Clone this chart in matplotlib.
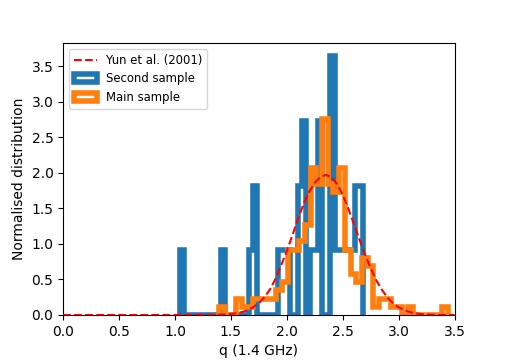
import numpy as np
import matplotlib.pyplot as plt

# Yun et al. (2001) curve
yun_q = [0.0, 1.0, 1.30, 1.35, 1.40, 1.45, 1.50, 1.55, 1.60, 1.65, 1.70, 1.75,
         1.80, 1.85, 1.90, 1.95, 2.00, 2.05, 2.10, 2.15, 2.20, 2.25, 2.30, 2.35,
         2.40, 2.45, 2.50, 2.55, 2.60, 2.65, 2.70, 2.75, 2.80, 2.85, 2.90, 2.95,
         3.00, 3.05, 3.10, 3.15, 3.20, 3.25, 3.30, 3.35, 3.40, 3.50]
yun_density = [0.0, 0.0, 0.001, 0.002, 0.004, 0.008, 0.014, 0.024, 0.042, 0.068, 0.109, 0.167,
               0.25, 0.36, 0.51, 0.70, 0.90, 1.12, 1.35, 1.56, 1.73, 1.86, 1.94, 1.97,
               1.94, 1.84, 1.69, 1.50, 1.28, 1.06, 0.85, 0.66, 0.49, 0.355, 0.247, 0.167,
               0.109, 0.068, 0.042, 0.024, 0.014, 0.008, 0.004, 0.002, 0.001, 0.0]

# second sample: 45 bins between 1.045 and 2.682
second_range = (1.045, 2.682)
second_heights = [0.91, 0, 0, 0, 0, 0, 0, 0, 0, 0,
                  0.91, 0, 0, 0, 0, 0, 0, 0.91, 1.82, 0,
                  0, 0, 0, 0, 0.91, 0.91, 0.91, 0, 0, 1.82,
                  2.73, 0, 0.91, 0.91, 2.73, 0, 0, 3.64, 0.91, 0.91,
                  0.91, 0.91, 0.91, 1.82, 1.82]

# main sample: 40 bins between 1.395 and 3.44
main_range = (1.395, 3.44)
main_heights = [0.115, 0, 0, 0.23, 0.115, 0.115, 0.23, 0.23, 0.23, 0.23,
                0.345, 0.46, 0.92, 0.92, 1.035, 1.265, 2.07, 1.84, 2.76, 1.84,
                1.725, 2.07, 0.92, 0.575, 0.46, 0.805, 0.69, 0.115, 0.23, 0.23,
                0.115, 0.115, 0, 0.115, 0, 0, 0, 0, 0, 0.115]


def step_hist(ax, rng, heights, **kw):
    edges = np.linspace(rng[0], rng[1], len(heights) + 1)
    centres = 0.5 * (edges[1:] + edges[:-1])
    ax.hist(centres, bins=edges, weights=heights, histtype='step', lw=4, **kw)


fig, ax = plt.subplots(figsize=(5.05, 3.6), dpi=100)
fig.subplots_adjust(left=0.125, right=0.9, top=0.88, bottom=0.125)

ax.plot(yun_q, yun_density, 'r--', zorder=3, label='Yun et al. (2001)')
step_hist(ax, second_range, second_heights, color='C0', label='Second sample')
step_hist(ax, main_range, main_heights, color='C1', label='Main sample')

ax.set_xlim(0, 3.5)
ax.set_xlabel('q (1.4 GHz)')
ax.set_ylabel('Normalised distribution')
ax.legend(loc='upper left', fontsize='small')

fig.savefig('out.png')
